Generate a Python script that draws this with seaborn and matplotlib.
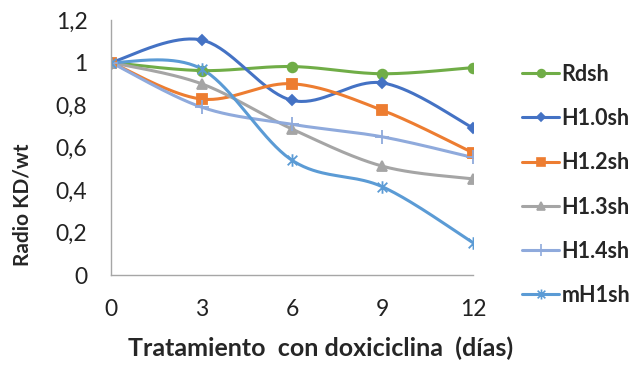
import numpy as np
import pandas as pd
import matplotlib
matplotlib.use("Agg")
import matplotlib.pyplot as plt
from matplotlib.path import Path
from matplotlib.lines import Line2D
import seaborn as sns

# Days of doxycycline treatment
days = [0, 3, 6, 9, 12]

# KD/wt ratio per construct
rdsh = [1.00, 0.962, 0.981, 0.947, 0.976]
h10sh = [1.00, 1.106, 0.822, 0.904, 0.692]
h12sh = [1.00, 0.828, 0.900, 0.775, 0.575]
h13sh = [1.00, 0.900, 0.687, 0.512, 0.452]
h14sh = [1.00, 0.790, 0.709, 0.650, 0.553]
mh1sh = [1.00, 0.970, 0.540, 0.415, 0.152]

series_names = ["Rdsh", "H1.0sh", "H1.2sh", "H1.3sh", "H1.4sh", "mH1sh"]
series_values = [rdsh, h10sh, h12sh, h13sh, h14sh, mh1sh]
y_ticks = [0, 0.2, 0.4, 0.6, 0.8, 1.0, 1.2]
y_tick_labels = ["0", "0,2", "0,4", "0,6", "0,8", "1", "1,2"]

colors = ["#70AD47", "#4472C4", "#ED7D31", "#A5A5A5", "#8FAADC", "#5B9BD5"]

# asterisk marker: an "x" with a vertical stroke
star_path = Path(
    [(-1, -1), (1, 1), (-1, 1), (1, -1), (0, -1.3), (0, 1.3)],
    [Path.MOVETO, Path.LINETO, Path.MOVETO, Path.LINETO, Path.MOVETO, Path.LINETO],
)
markers = ["o", "D", "s", "^", "+", star_path]
msizes = [7, 5, 7, 7.5, 10, 9]


def smooth(x, y, n=40):
    """Catmull-Rom style Bezier smoothing through the points."""
    p = np.column_stack([x, y]).astype(float)
    ext = np.vstack([p[0], p, p[-1]])
    out = []
    t = np.linspace(0, 1, n)[:, None]
    for i in range(len(p) - 1):
        p0, p3 = ext[i + 1], ext[i + 2]
        c1 = p0 + (ext[i + 2] - ext[i]) / 6
        c2 = p3 - (ext[i + 3] - ext[i + 1]) / 6
        seg = ((1 - t) ** 3) * p0 + 3 * ((1 - t) ** 2) * t * c1 + 3 * (1 - t) * t ** 2 * c2 + t ** 3 * p3
        out.append(seg if i == 0 else seg[1:])
    out = np.vstack(out)
    return out[:, 0], out[:, 1]


sns.set_style("white")
plt.rcParams["font.family"] = ["Lato", "DejaVu Sans"]
plt.rcParams["xtick.major.pad"] = 17
plt.rcParams["ytick.major.pad"] = 17
plt.rcParams["xtick.major.size"] = 0
plt.rcParams["ytick.major.size"] = 0

fig = plt.figure(figsize=(6.35, 3.65), dpi=100)
ax = fig.add_axes([111 / 635, 1 - 275 / 365, 362 / 635, 255 / 365])

rows = []
for name, vals in zip(series_names, series_values):
    sx, sy = smooth(days, vals)
    rows.append(pd.DataFrame({"dia": sx, "ratio": sy, "serie": name}))
curves = pd.concat(rows, ignore_index=True)
points = pd.DataFrame(
    [(d, v, name) for name, vals in zip(series_names, series_values) for d, v in zip(days, vals)],
    columns=["dia", "ratio", "serie"],
)

palette = dict(zip(series_names, colors))
sns.lineplot(data=curves, x="dia", y="ratio", hue="serie", estimator=None, sort=False,
             palette=palette, linewidth=2.2, legend=False, ax=ax)

for name, c, m, ms in zip(series_names, colors, markers, msizes):
    sub = points[points["serie"] == name]
    ax.plot(sub["dia"], sub["ratio"], linestyle="none", marker=m, markersize=ms,
            color=c, markeredgecolor=c, markeredgewidth=1.3)

ax.set_xlim(0, 12)
ax.set_ylim(0, 1.2)
ax.set_xticks(days)
ax.set_xticklabels([str(d) for d in days], fontsize=16.5, color="#222222")
ax.set_yticks(y_ticks)
ax.set_yticklabels(y_tick_labels, fontsize=16.5, color="#222222")

for s in ["top", "right"]:
    ax.spines[s].set_visible(False)
for s in ["left", "bottom"]:
    ax.spines[s].set_color("#A6A6A6")
    ax.spines[s].set_linewidth(1.0)

ax.set_xlabel("Tratamiento  con doxiciclina  (días)", fontsize=18, fontweight="bold")
ax.xaxis.set_label_coords(0.58, -0.243)
ax.set_ylabel("Radio KD/wt", fontsize=15, fontweight="bold")
ax.yaxis.label.set(ha="center", va="center", rotation_mode="default")
ax.yaxis.set_label_coords(-0.245, 0.275)

handles = [
    Line2D([0], [0], color=c, linewidth=2.2, marker=m, markersize=ms * 0.8,
           markeredgecolor=c, markeredgewidth=1.2)
    for c, m, ms in zip(colors, markers, msizes)
]
leg = fig.legend(handles, series_names, loc="upper left", bbox_to_anchor=(511 / 635, 1 - 53 / 365),
                 frameon=False, borderpad=0, handlelength=1.75, handletextpad=0.1,
                 labelspacing=1.08,
                 prop={"family": ["Lato", "DejaVu Sans"], "weight": "bold", "size": 15.5})

fig.savefig("out.png", dpi=100)
